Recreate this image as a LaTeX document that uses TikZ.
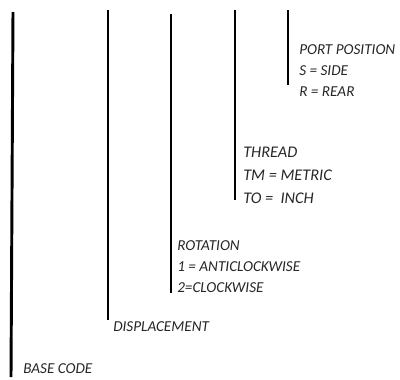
\documentclass[tikz,border=0pt]{standalone}
\usepackage{fontspec}
\setmainfont{Carlito}
\usetikzlibrary{positioning}

\tikzset{
  codeline/.style={line width=2.2pt, black},
  codetext/.style={font=\itshape\fontsize{11.4}{15.4}\selectfont, text=black!85, align=left, inner sep=0pt, anchor=base west},
}

\begin{document}
\begin{tikzpicture}[x=0.75pt, y=-0.75pt]
    \useasboundingbox (0,0) rectangle (400,379);

    % Define the tops and the feet of the lines
    \coordinate (T1) at (13,12);
    \coordinate (F1) at (11,377);
    \coordinate (T2) at (108,10);
    \coordinate (F2) at (108,320);
    \coordinate (T3) at (171,14);
    \coordinate (F3) at (171,293);
    \coordinate (T4) at (235,10);
    \coordinate (F4) at (235,200);
    \coordinate (T5) at (288,10);
    \coordinate (F5) at (288,85);

    % Place the labels (anchored at the last line)
    \node[codetext] (base) at (23,373) {BASE CODE};
    \node[codetext] (disp) at (113,331) {DISPLACEMENT};
    \node[codetext] (rot) at (177,292) {ROTATION\\1 = ANTICLOCKWISE\\2=CLOCKWISE};
    \node[codetext, font=\itshape\fontsize{12.2}{16.9}\selectfont] (thread) at (243,203) {THREAD\\TM = METRIC\\TO =\ \ INCH};
    \node[codetext] (port) at (299,96) {PORT POSITION\\S = SIDE\\R = REAR};

    % Draw the lines
    \draw[codeline] (T1) -- (F1);
    \draw[codeline] (T2) -- (F2);
    \draw[codeline] (T3) -- (F3);
    \draw[codeline] (T4) -- (F4);
    \draw[codeline] (T5) -- (F5);
\end{tikzpicture}
\end{document}
